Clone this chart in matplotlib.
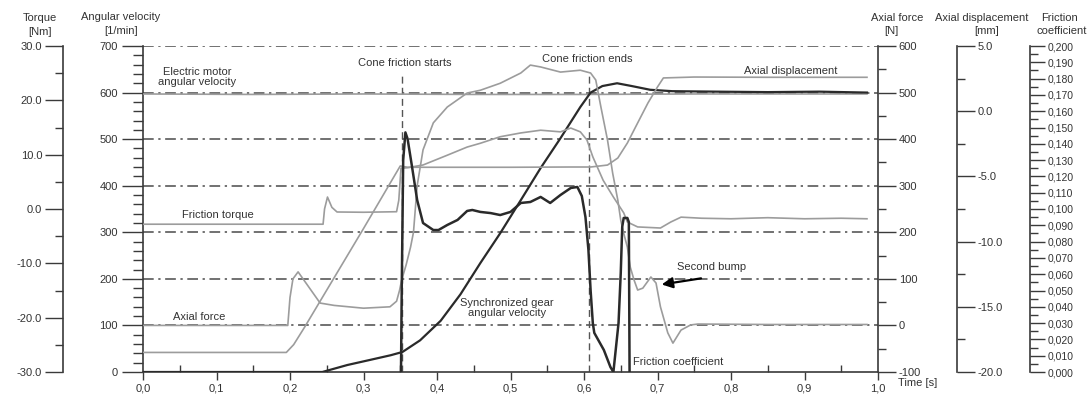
import matplotlib
matplotlib.use("Agg")
import matplotlib.pyplot as plt
from matplotlib.ticker import MultipleLocator, FuncFormatter

plt.rcParams['font.family'] = ['Liberation Sans', 'DejaVu Sans']

# ---- data ----
# electric motor angular velocity [1/min]
motor_t = [0.0, 0.15, 0.30, 0.45, 0.60, 0.75, 0.90, 0.985]
motor_w = [597, 596, 597, 596, 596, 597, 597, 597]

# synchronized gear angular velocity [1/min]
gear_t = [0.0, 0.244, 0.278, 0.309, 0.337, 0.353, 0.377, 0.405, 0.432, 0.459,
          0.486, 0.514, 0.541, 0.568, 0.595, 0.609, 0.625, 0.645, 0.665, 0.69,
          0.72, 0.78, 0.85, 0.92, 0.985]
gear_w = [0, 0, 15, 26, 36, 43, 68, 110, 167, 234,
          298, 369, 438, 502, 569, 600, 614, 620, 614, 606,
          603, 602, 601, 602, 600]

# friction torque [Nm]
torque_t = [0.0, 0.245, 0.247, 0.251, 0.257, 0.264, 0.30, 0.345, 0.348, 0.351,
            0.36, 0.381, 0.414, 0.441, 0.459, 0.486, 0.514, 0.541, 0.568, 0.582,
            0.595, 0.604, 0.612, 0.626, 0.640, 0.654, 0.659, 0.673, 0.704, 0.718,
            0.732, 0.76, 0.80, 0.85, 0.90, 0.95, 0.985]
torque_v = [-2.8, -2.8, 0.0, 2.2, 0.3, -0.55, -0.6, -0.5, 1.6, 7.5,
            7.6, 8.1, 9.9, 11.4, 12.1, 13.3, 14.0, 14.5, 14.2, 14.9,
            14.2, 12.7, 9.6, 5.3, 2.2, -0.7, -2.4, -3.3, -3.5, -2.4,
            -1.5, -1.7, -1.8, -1.6, -1.8, -1.7, -1.8]

# axial force [N]
force_t = [0.0, 0.197, 0.200, 0.204, 0.211, 0.241, 0.26, 0.30, 0.336, 0.345,
           0.349, 0.352, 0.358, 0.364, 0.368, 0.373, 0.381, 0.395, 0.414, 0.441,
           0.459, 0.486, 0.514, 0.527, 0.541, 0.568, 0.595, 0.609, 0.616, 0.623,
           0.632, 0.639, 0.646, 0.650, 0.654, 0.659, 0.663, 0.668, 0.673, 0.680,
           0.691, 0.698, 0.704, 0.714, 0.721, 0.732, 0.745, 0.755, 0.85, 0.985]
force_v = [0, 0, 60, 100, 115, 48, 43, 37, 40, 52,
           75, 98, 130, 168, 200, 300, 377, 435, 469, 499,
           505, 520, 542, 559, 555, 544, 548, 542, 527, 469,
           398, 327, 269, 226, 198, 168, 125, 98, 76, 80,
           104, 91, 40, -16, -38, -10, 1, 3, 2, 2]

# axial displacement [mm]
disp_t = [0.0, 0.195, 0.205, 0.22, 0.30, 0.35, 0.36, 0.40, 0.50, 0.58,
          0.609, 0.632, 0.646, 0.659, 0.673, 0.687, 0.700, 0.708, 0.75, 0.85, 0.985]
disp_v = [-18.5, -18.5, -17.9, -16.55, -9.0, -4.2, -4.3, -4.3, -4.3, -4.28,
          -4.28, -4.13, -3.59, -2.44, -0.90, 0.63, 1.86, 2.55, 2.62, 2.6, 2.6]

# friction coefficient [-]
mu_t = [0.351, 0.352, 0.354, 0.357, 0.360, 0.366, 0.373, 0.381, 0.395, 0.402,
        0.414, 0.428, 0.441, 0.448, 0.459, 0.473, 0.486, 0.500, 0.514, 0.527,
        0.541, 0.554, 0.568, 0.582, 0.591, 0.597, 0.602, 0.606, 0.609, 0.612,
        0.614, 0.627, 0.636, 0.640, 0.647, 0.650, 0.652, 0.654, 0.659, 0.661, 0.662]
mu_v = [0.0, 0.05, 0.13, 0.147, 0.143, 0.126, 0.1055, 0.0914, 0.0871, 0.0871,
        0.0902, 0.0933, 0.0988, 0.0994, 0.0982, 0.0975, 0.0963, 0.0982, 0.1037, 0.1043,
        0.1074, 0.1037, 0.1086, 0.1129, 0.1135, 0.108, 0.095, 0.075, 0.05, 0.03,
        0.024, 0.0135, 0.003, 0.0, 0.0301, 0.0607, 0.089, 0.0945, 0.0945, 0.092, 0.0]

grid_levels = [100, 200, 300, 400, 500, 600, 700]
cone_start, cone_end = 0.352, 0.607

GREY = '#9c9c9c'
DARK = '#2a2a2a'
TXT = '#333333'
SPINE = '#3a3a3a'

W, H = 1089, 397
fig = plt.figure(figsize=(W / 100, H / 100), dpi=100)
ax = fig.add_axes([143 / W, 1 - 372 / H, (878 - 143) / W, (372 - 46) / H])


def comma(fmt):
    return FuncFormatter(lambda v, p: format(v, fmt).replace('.', ','))


def plain(fmt):
    return FuncFormatter(lambda v, p: format(v, fmt).replace('\u2212', '-'))


# main axis: angular velocity / time
ax.set_xlim(0, 1)
ax.set_ylim(0, 700)
for s in ['top', 'right']:
    ax.spines[s].set_visible(False)
for s in ['left', 'bottom']:
    ax.spines[s].set_color(SPINE)
    ax.spines[s].set_linewidth(1.2)
ax.xaxis.set_major_locator(MultipleLocator(0.1))
ax.xaxis.set_minor_locator(MultipleLocator(0.05))
ax.xaxis.set_major_formatter(comma('.1f'))
ax.yaxis.set_major_locator(MultipleLocator(100))
ax.yaxis.set_minor_locator(MultipleLocator(20))
ax.yaxis.set_major_formatter(plain('.0f'))
ax.tick_params(axis='x', which='major', direction='out', length=6, width=1, color=SPINE,
               labelsize=8, labelcolor=TXT, pad=2)
ax.tick_params(axis='x', which='minor', direction='in', length=5, width=1, color=SPINE)
ax.tick_params(axis='y', which='major', direction='out', length=15, width=1, color=SPINE,
               labelsize=8, labelcolor=TXT, pad=3)
ax.tick_params(axis='y', which='minor', direction='out', length=7, width=1, color=SPINE)

for lv in grid_levels:
    ax.axhline(lv, color='#4a4a4a', lw=1.1, ls=(0, (7, 3, 1.5, 3)), zorder=1)
ax.vlines([cone_start, cone_end], 0, 645, colors='#555555', lw=1.0,
          linestyles=(0, (5, 3)), zorder=1)


def side_axis(side, pos, lo, hi, major, minor, fmt):
    a = ax.twinx()
    a.set_ylim(lo, hi)
    for s in a.spines.values():
        s.set_visible(False)
    a.spines[side].set_visible(True)
    a.spines[side].set_position(('axes', pos))
    a.spines[side].set_color(SPINE)
    a.spines[side].set_linewidth(1.2)
    a.yaxis.set_ticks_position(side)
    a.yaxis.set_label_position(side)
    a.yaxis.set_major_locator(MultipleLocator(major))
    a.yaxis.set_minor_locator(MultipleLocator(minor))
    a.yaxis.set_major_formatter(fmt)
    a.tick_params(axis='y', which='major', direction='out', length=13, width=1,
                  color=SPINE, labelsize=8, labelcolor=TXT, pad=2)
    a.tick_params(axis='y', which='minor', direction='out', length=6, width=1, color=SPINE)
    return a


ax_f = side_axis('right', 1.0, -100, 600, 100, 50, plain('.0f'))
ax_T = side_axis('left', -0.1088, -30, 30, 10, 5, plain('.1f'))
ax_D = side_axis('right', 1.1075, -20, 5, 5, 2.5, plain('.1f'))
ax_mu = side_axis('right', 1.2068, 0, 0.2, 0.01, 0.005, comma('.3f'))
ax_mu.tick_params(axis='y', which='major', labelsize=7.5, length=11)

# curves
ax.plot(motor_t, motor_w, color=GREY, lw=1.2, zorder=3)
ax.plot(gear_t, gear_w, color=DARK, lw=1.6, zorder=4)
ax_T.plot(torque_t, torque_v, color=GREY, lw=1.2)
ax_f.plot(force_t, force_v, color=GREY, lw=1.2)
ax_D.plot(disp_t, disp_v, color=GREY, lw=1.2)
ax_mu.plot(mu_t, mu_v, color=DARK, lw=1.8)

# annotations (in angular velocity coordinates)
tk = dict(fontsize=8, color=TXT)
ax.text(0.074, 633, 'Electric motor\nangular velocity', ha='center', va='center',
        linespacing=1.05, **tk)
ax.text(0.053, 337, 'Friction torque', ha='left', va='center', **tk)
ax.text(0.041, 118, 'Axial force', ha='left', va='center', **tk)
ax.text(0.356, 663, 'Cone friction starts', ha='center', va='center', **tk)
ax.text(0.605, 672, 'Cone friction ends', ha='center', va='center', **tk)
ax.text(0.881, 646, 'Axial displacement', ha='center', va='center', **tk)
ax.text(0.495, 138, 'Synchronized gear\nangular velocity', ha='center', va='center',
        linespacing=1.05, **tk)
ax.text(0.774, 225, 'Second bump', ha='center', va='center', **tk)
ax.text(0.666, 21, 'Friction coefficient', ha='left', va='center', **tk)
ax.annotate('', xy=(0.702, 187), xytext=(0.763, 202),
            arrowprops=dict(arrowstyle='-|>', color='black', lw=1.6, mutation_scale=16))


# axis titles
def ftext(x, y, s):
    fig.text(x / W, 1 - y / H, s, ha='center', va='center', fontsize=8, color=TXT)


ftext(40, 18, 'Torque')
ftext(40, 32, '[Nm]')
ftext(121, 17, 'Angular velocity')
ftext(121, 31, '[1/min]')
ftext(897, 18, 'Axial force')
ftext(891, 31, '[N]')
ftext(982, 18, 'Axial displacement')
ftext(987, 31, '[mm]')
ftext(1060, 18, 'Friction')
ftext(1062, 31, 'coefficient')
fig.text(898 / W, 1 - 383 / H, 'Time [s]', ha='left', va='center', fontsize=8, color=TXT)

fig.savefig('out.png', dpi=100)
